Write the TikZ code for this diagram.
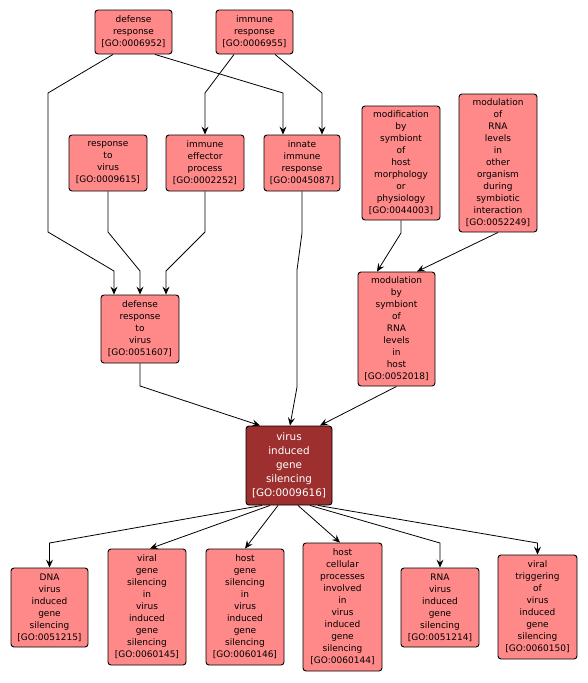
\documentclass[tikz,border=0pt]{standalone}
\usepackage{fontspec}
\setmainfont{DejaVu Sans}
\usetikzlibrary{arrows.meta, positioning}
\definecolor{termred}{RGB}{255, 137, 137}
\definecolor{hitred}{RGB}{157, 47, 47}

\begin{document}
\begin{tikzpicture}[
  x=1pt, y=-1pt,
  every node/.style={font=\fontsize{9}{12}\selectfont, align=center, inner sep=0pt},
  term/.style={draw=black, line width=0.9pt, fill=termred, rounded corners=3pt},
  hit/.style={draw=black, line width=0.9pt, fill=hitred, rounded corners=3pt, text=white, font=\fontsize{10.4}{14}\selectfont},
  edge/.style={-{Stealth[length=8pt, width=7pt, inset=3pt]}, line width=0.8pt, black}
]
  \useasboundingbox (0,0) rectangle (587,683);

  % Top level
  \node[term, minimum width=77pt, minimum height=44pt] (dr) at (133.5,32) {defense\\response\\{[GO:0006952]}};
  \node[term, minimum width=77pt, minimum height=44pt] (ir) at (254.5,32) {immune\\response\\{[GO:0006955]}};

  % Second level
  \node[term, minimum width=78pt, minimum height=56pt] (rtv) at (108,163) {response\\to\\virus\\{[GO:0009615]}};
  \node[term, minimum width=78pt, minimum height=56pt] (iep) at (205,163) {immune\\effector\\process\\{[GO:0002252]}};
  \node[term, minimum width=76pt, minimum height=56pt] (iir) at (302,163) {innate\\immune\\response\\{[GO:0045087]}};
  \node[term, minimum width=78pt, minimum height=114pt] (mbs) at (401,163) {modification\\by\\symbiont\\of\\host\\morphology\\or\\physiology\\{[GO:0044003]}};
  \node[term, minimum width=78pt, minimum height=138pt] (mrl) at (498,163) {modulation\\of\\RNA\\levels\\in\\other\\organism\\during\\symbiotic\\interaction\\{[GO:0052249]}};

  % Third level
  \node[term, minimum width=78pt, minimum height=68pt] (drtv) at (140,329) {defense\\response\\to\\virus\\{[GO:0051607]}};
  \node[term, minimum width=77pt, minimum height=114pt] (mbsr) at (396.5,329) {modulation\\by\\symbiont\\of\\RNA\\levels\\in\\host\\{[GO:0052018]}};

  % Query term
  \node[hit, minimum width=86pt, minimum height=79pt] (vigs) at (289,465.5) {virus\\induced\\gene\\silencing\\{[GO:0009616]}};

  % Children
  \node[term, minimum width=77pt, minimum height=79pt] (dna) at (49.5,607.5) {DNA\\virus\\induced\\gene\\silencing\\{[GO:0051215]}};
  \node[term, minimum width=78pt, minimum height=116pt] (vgs) at (147,607) {viral\\gene\\silencing\\in\\virus\\induced\\gene\\silencing\\{[GO:0060145]}};
  \node[term, minimum width=78pt, minimum height=116pt] (hgs) at (245,607) {host\\gene\\silencing\\in\\virus\\induced\\gene\\silencing\\{[GO:0060146]}};
  \node[term, minimum width=79pt, minimum height=128pt] (hcp) at (342.5,607) {host\\cellular\\processes\\involved\\in\\virus\\induced\\gene\\silencing\\{[GO:0060144]}};
  \node[term, minimum width=78pt, minimum height=79pt] (rna) at (440,607.5) {RNA\\virus\\induced\\gene\\silencing\\{[GO:0051214]}};
  \node[term, minimum width=79pt, minimum height=104pt] (vt) at (537.5,607) {viral\\triggering\\of\\virus\\induced\\gene\\silencing\\{[GO:0060150]}};

  % Edges into defense response to virus
  \draw[edge] ([xshift=-20.5pt]dr.south) -- (48,93) -- (48,232) -- (114,271) -- ([xshift=-26pt]drtv.north);
  \draw[edge] (rtv.south) -- (108,232) -- (140,271) -- (drtv.north);
  \draw[edge] (iep.south) -- (205,232) -- (166,271) -- ([xshift=26pt]drtv.north);

  % Edges into second level
  \draw[edge] ([xshift=21.5pt]dr.south) -- (283,93) -- ([xshift=-19pt]iir.north);
  \draw[edge] ([xshift=-20.5pt]ir.south) -- (205,93) -- (iep.north);
  \draw[edge] ([xshift=20.5pt]ir.south) -- (322,93) -- ([xshift=20pt]iir.north);

  % Modulation in host
  \draw[edge] (mbs.south) -- (401,233) -- ([xshift=-19.5pt]mbsr.north);
  \draw[edge] (mrl.south) -- ([xshift=20.5pt]mbsr.north);

  % Edges into query term
  \draw[edge] (iir.south) -- (302,233) -- (297,270) -- (297,387) -- ([xshift=1pt]vigs.north);
  \draw[edge] (drtv.south) -- (140,386) -- ([xshift=-29pt]vigs.north);
  \draw[edge] (mbsr.south) -- ([xshift=31pt]vigs.north);

  % Edges to children
  \draw[edge] ([xshift=-27pt]vigs.south) -- (49.5,543) -- (dna.north);
  \draw[edge] ([xshift=-19pt]vigs.south) -- ([xshift=3pt]vgs.north);
  \draw[edge] ([xshift=-11pt]vigs.south) -- (hgs.north);
  \draw[edge] ([xshift=9pt]vigs.south) -- ([xshift=-2.5pt]hcp.north);
  \draw[edge] ([xshift=21pt]vigs.south) -- (440,543) -- (rna.north);
  \draw[edge] ([xshift=29pt]vigs.south) -- (537.5,543) -- (vt.north);

\end{tikzpicture}
\end{document}
